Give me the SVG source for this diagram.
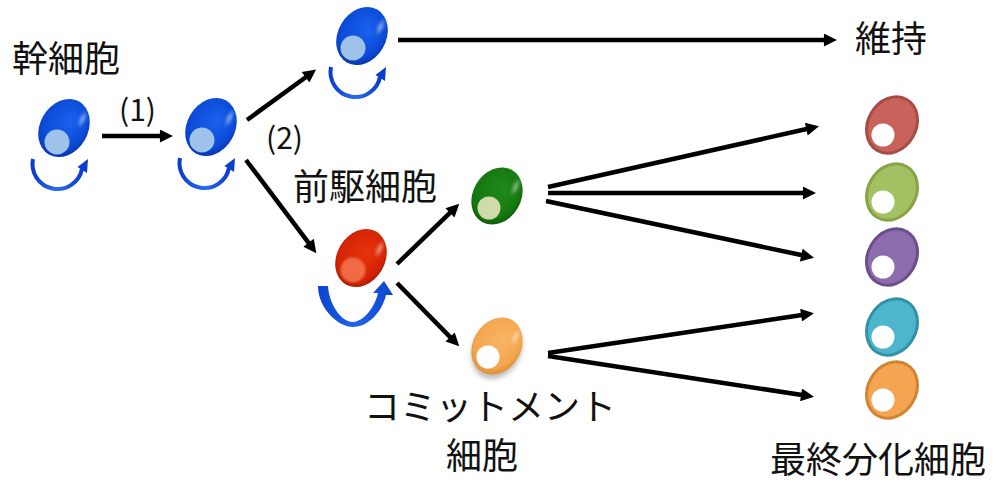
<svg xmlns="http://www.w3.org/2000/svg" xmlns:xlink="http://www.w3.org/1999/xlink" width="998" height="484" viewBox="0 0 998 484">
  <style>
    .label { font-family: "Noto Sans CJK JP", "Noto Sans", sans-serif; font-size: 36px; fill: #111; }
    .step { font-family: "Noto Sans CJK JP", "Liberation Sans", sans-serif; font-size: 30px; fill: #111; }
    .conn { stroke: #000; stroke-width: 4.5; fill: none; marker-end: url(#head); }
    .renew-arc { fill: none; stroke: url(#gRenew); stroke-width: 4; }
    .final { stroke-width: 3; }
    .nuc-white { fill: #fff; }
  </style>
  <defs>
    <marker id="head" viewBox="0 0 10 10" refX="4.67" refY="5" markerUnits="userSpaceOnUse" markerWidth="15" markerHeight="13" orient="auto">
      <path d="M0,0 L10,5 L0,10 z" fill="#000"/>
    </marker>
    <radialGradient id="gBlue" cx="0.45" cy="0.45" r="0.6" fx="0.55" fy="0.35">
      <stop offset="0" stop-color="#1a62ee"/>
      <stop offset="0.75" stop-color="#0a4ad6"/>
      <stop offset="1" stop-color="#0632a8"/>
    </radialGradient>
    <radialGradient id="gRed" cx="0.45" cy="0.45" r="0.6" fx="0.55" fy="0.35">
      <stop offset="0" stop-color="#e8320a"/>
      <stop offset="0.75" stop-color="#d42406"/>
      <stop offset="1" stop-color="#a81800"/>
    </radialGradient>
    <radialGradient id="gGreen" cx="0.45" cy="0.45" r="0.6" fx="0.55" fy="0.35">
      <stop offset="0" stop-color="#1f8a1a"/>
      <stop offset="0.75" stop-color="#167810"/>
      <stop offset="1" stop-color="#0c5a08"/>
    </radialGradient>
    <radialGradient id="gOrange" cx="0.45" cy="0.45" r="0.6" fx="0.55" fy="0.35">
      <stop offset="0" stop-color="#f8b466"/>
      <stop offset="0.75" stop-color="#f4a64e"/>
      <stop offset="1" stop-color="#d88830"/>
    </radialGradient>
    <radialGradient id="gShine" cx="0.5" cy="0.5" r="0.5">
      <stop offset="0" stop-color="#fff" stop-opacity="0.55"/>
      <stop offset="1" stop-color="#fff" stop-opacity="0"/>
    </radialGradient>
    <linearGradient id="gRenew" x1="0" y1="0" x2="1" y2="0">
      <stop offset="0" stop-color="#0a3cd0"/>
      <stop offset="0.5" stop-color="#2a6cf0"/>
      <stop offset="1" stop-color="#0a3cd0"/>
    </linearGradient>
    <linearGradient id="gBigRenew" x1="0" y1="0" x2="1" y2="0">
      <stop offset="0" stop-color="#0a44cc"/>
      <stop offset="0.5" stop-color="#2264ea"/>
      <stop offset="1" stop-color="#0a44cc"/>
    </linearGradient>
    <filter id="soft" x="-50%" y="-50%" width="200%" height="200%">
      <feGaussianBlur stdDeviation="1.2"/>
    </filter>
    <filter id="shadow" x="-50%" y="-50%" width="200%" height="200%">
      <feGaussianBlur stdDeviation="2.5"/>
    </filter>
    <!-- small self-renewal arc drawn under a cell -->
    <g id="renew">
      <path class="renew-arc" d="M -31 31 A 25 25 0 0 0 18 41"/>
      <path d="M 24 31 L 13.5 39 L 23 45 Z" fill="#0a3cd0"/>
    </g>
    <!-- glossy highlight on the upper-right rim -->
    <ellipse id="shine" cx="13" cy="-16" rx="4" ry="10" transform="rotate(25)" fill="url(#gShine)" filter="url(#soft)"/>
  </defs>

  <!-- connectors -->
  <g id="connectors">
    <line class="conn" x1="102" y1="136" x2="166" y2="136"/>
    <line class="conn" x1="247" y1="120" x2="310.5" y2="73.7"/>
    <line class="conn" x1="246" y1="160" x2="312.2" y2="247.6"/>
    <line class="conn" x1="398" y1="40" x2="830" y2="40"/>
    <line class="conn" x1="397" y1="264" x2="454.3" y2="208.6"/>
    <line class="conn" x1="397" y1="283" x2="454.4" y2="341.3"/>
    <line class="conn" x1="548" y1="187" x2="812.2" y2="127.8"/>
    <line class="conn" x1="548" y1="193" x2="809" y2="193"/>
    <line class="conn" x1="546" y1="201" x2="807.2" y2="256.3"/>
    <line class="conn" x1="548" y1="353" x2="807.1" y2="314.2"/>
    <line class="conn" x1="548" y1="356" x2="807.1" y2="395.8"/>
  </g>

  <!-- stem cell -->
  <g id="stem-cell" transform="translate(64,128)">
    <ellipse rx="24" ry="30.5" transform="rotate(30)" fill="url(#gBlue)"/>
    <use xlink:href="#shine"/>
    <circle cx="-7" cy="14" r="12.5" fill="#9fc2ea"/>
    <use xlink:href="#renew"/>
  </g>

  <g id="stem-cell-2" transform="translate(211,127)">
    <ellipse rx="24" ry="30.5" transform="rotate(30)" fill="url(#gBlue)"/>
    <use xlink:href="#shine"/>
    <circle cx="-9" cy="13" r="12.5" fill="#9fc2ea"/>
    <use xlink:href="#renew"/>
  </g>

  <g id="stem-cell-maintained" transform="translate(362,36)">
    <ellipse rx="24" ry="30.5" transform="rotate(30)" fill="url(#gBlue)"/>
    <use xlink:href="#shine"/>
    <circle cx="-9" cy="12" r="12.5" fill="#9fc2ea"/>
    <use xlink:href="#renew"/>
  </g>

  <!-- progenitor cell with large self-renewal loop -->
  <g id="progenitor-cell">
    <g transform="translate(361,258)">
      <ellipse rx="24" ry="30.5" transform="rotate(30)" fill="url(#gRed)"/>
      <use xlink:href="#shine"/>
      <circle cx="-8" cy="12" r="12.5" fill="#f06a44" filter="url(#soft)"/>
    </g>
    <path d="M 318 286 C 318 308, 338 327, 353 327 C 368 327, 382 312, 386 295 L 393 295 L 384 281 L 373 293 L 378 293 C 375 306, 365 321, 353 322 C 341 322, 329 304, 328 286 Z" fill="url(#gBigRenew)"/>
  </g>

  <g id="committed-green" transform="translate(497,196)">
    <ellipse rx="24" ry="30" transform="rotate(30)" fill="url(#gGreen)"/>
    <use xlink:href="#shine"/>
    <circle cx="-8" cy="12" r="11.5" fill="#cfdcaa"/>
  </g>

  <g id="committed-orange" transform="translate(497,346)">
    <ellipse cx="2" cy="4" rx="24" ry="30" transform="rotate(30)" fill="#000" opacity="0.25" filter="url(#shadow)"/>
    <ellipse rx="24" ry="30" transform="rotate(30)" fill="url(#gOrange)"/>
    <use xlink:href="#shine"/>
    <circle cx="-9" cy="11" r="11.5" class="nuc-white"/>
  </g>

  <!-- terminally differentiated cells -->
  <g id="final-red" transform="translate(892,125)">
    <ellipse class="final" rx="24" ry="29.5" transform="rotate(30)" fill="#c8625b" stroke="#a84b44"/>
    <circle cx="-9" cy="10" r="11.5" class="nuc-white"/>
  </g>
  <g id="final-green" transform="translate(892,192)">
    <ellipse class="final" rx="24" ry="29.5" transform="rotate(30)" fill="#a3c062" stroke="#86a446"/>
    <circle cx="-9" cy="10" r="11.5" class="nuc-white"/>
  </g>
  <g id="final-purple" transform="translate(892,257)">
    <ellipse class="final" rx="24" ry="29.5" transform="rotate(30)" fill="#8c6cac" stroke="#6b4f8c"/>
    <circle cx="-9" cy="10" r="11.5" class="nuc-white"/>
  </g>
  <g id="final-teal" transform="translate(892,327)">
    <ellipse class="final" rx="24" ry="29.5" transform="rotate(30)" fill="#4db5cc" stroke="#3290a8"/>
    <circle cx="-9" cy="10" r="11.5" class="nuc-white"/>
  </g>
  <g id="final-orange" transform="translate(892,390)">
    <ellipse class="final" rx="24" ry="29.5" transform="rotate(30)" fill="#f5a552" stroke="#d08433"/>
    <circle cx="-9" cy="10" r="11.5" class="nuc-white"/>
  </g>

  <!-- labels -->
  <g id="labels">
    <text class="label" x="12" y="72">幹細胞</text>
    <text class="step" x="119" y="121">(1)</text>
    <text class="step" x="266" y="149">(2)</text>
    <text class="label" x="855" y="52">維持</text>
    <text class="label" x="293" y="200">前駆細胞</text>
    <text class="label" x="364" y="420">コミットメント</text>
    <text class="label" x="446" y="469">細胞</text>
    <text class="label" x="770" y="473">最終分化細胞</text>
  </g>
</svg>
